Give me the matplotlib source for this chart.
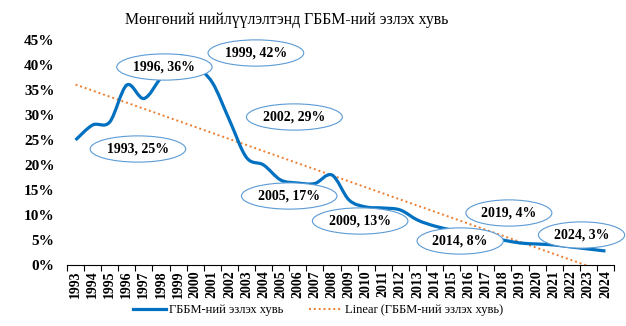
import numpy as np
import matplotlib
matplotlib.use('Agg')
import matplotlib.pyplot as plt
from matplotlib.path import Path
from matplotlib.patches import PathPatch
from matplotlib.lines import Line2D

plt.rcParams['font.family'] = ['Liberation Serif', 'DejaVu Serif']

years = list(range(1993, 2025))
share = [25, 28, 28.6, 36, 33.3, 37.5, 41.8, 39.8, 36.5, 29, 21.5, 20, 17, 16.4, 16.3, 18,
         13, 11.6, 11.4, 11, 9, 7.8, 7, 6.3, 5.6, 5, 4.4, 4.2, 4, 3.6, 3.2, 2.8]

# callout labels: year, label centre (x in years, y in %)
label_years = [1993, 1996, 1999, 2002, 2005, 2009, 2014, 2019, 2024]
label_x = [1996.65, 1998.2, 2003.55, 2005.8, 2005.5, 2009.65, 2015.5, 2018.35, 2022.6]
label_y = [23.2, 39.6, 42.4, 29.6, 13.8, 8.8, 4.8, 10.4, 6.0]

title = 'Мөнгөний нийлүүлэлтэнд ГББМ-ний эзлэх хувь'
series_name = 'ГББМ-ний эзлэх хувь'

blue = '#0070c0'
orange = '#ed7d31'

x = np.arange(len(years), dtype=float)
y = np.array(share) / 100

fig = plt.figure(figsize=(6.26, 3.26), dpi=100)
ax = fig.add_axes([67/626, 61/326, 547/626, 225/326])

# smoothed line like excel (catmull-rom -> bezier)
verts = [(x[0], y[0])]
codes = [Path.MOVETO]
for i in range(len(x) - 1):
    p0 = np.array([x[max(i-1, 0)], y[max(i-1, 0)]])
    p1 = np.array([x[i], y[i]])
    p2 = np.array([x[i+1], y[i+1]])
    p3 = np.array([x[min(i+2, len(x)-1)], y[min(i+2, len(x)-1)]])
    c1 = p1 + (p2 - p0) / 6
    c2 = p2 - (p3 - p1) / 6
    verts += [tuple(c1), tuple(c2), tuple(p2)]
    codes += [Path.CURVE4] * 3
ax.add_patch(PathPatch(Path(verts, codes), fc='none', ec=blue, lw=2.3,
                       capstyle='butt', zorder=3))

# linear trend
k, b = np.polyfit(x, y, 1)
xt = np.array([x[0], x[-1]])
ax.plot(xt, k * xt + b, color=orange, lw=1.4, ls=(0, (1, 1.5)), zorder=2)

for yr, lx, ly in zip(label_years, label_x, label_y):
    v = share[years.index(yr)]
    ax.text(lx - years[0], ly / 100, f'{yr}, {v:.0f}%', ha='center', va='center',
            fontsize=10, fontweight='bold', zorder=5,
            bbox=dict(boxstyle='ellipse,pad=0.2', fc='white', ec='#5b9bd5', lw=0.8))

ax.set_xlim(-0.5, len(years) - 0.5)
ax.set_ylim(0, 0.45)
ax.set_yticks(np.arange(0, 0.451, 0.05))
ax.set_yticklabels([f'{int(round(t*100))}%' for t in np.arange(0, 0.451, 0.05)],
                   fontsize=11, fontweight='bold')
ax.tick_params(axis='y', length=0, pad=9)
ax.set_xticks(x)
ax.set_xticklabels([str(yr) for yr in years], rotation=90, fontsize=10,
                   fontweight='bold')
ax.set_xticks(np.arange(-0.5, len(years), 1), minor=True)
ax.tick_params(axis='x', which='major', length=0, pad=4)
ax.tick_params(axis='x', which='minor', length=4, width=0.8, direction='out')
for s in ['top', 'right', 'left']:
    ax.spines[s].set_visible(False)
ax.spines['bottom'].set_linewidth(0.8)

fig.text(287/626, 1 - 20/326, title, ha='center', va='center', fontsize=11.3)

handles = [Line2D([], [], color=blue, lw=2.3),
           Line2D([], [], color=orange, lw=1.4, ls=(0, (1, 1.5)))]
fig.legend(handles, [series_name, f'Linear ({series_name})'], loc='center',
           bbox_to_anchor=(318/626, 1 - 310/326), ncol=2, frameon=False,
           fontsize=9, handlelength=2.6, columnspacing=2.0, handletextpad=0.3)

fig.savefig('out.png', dpi=100)
